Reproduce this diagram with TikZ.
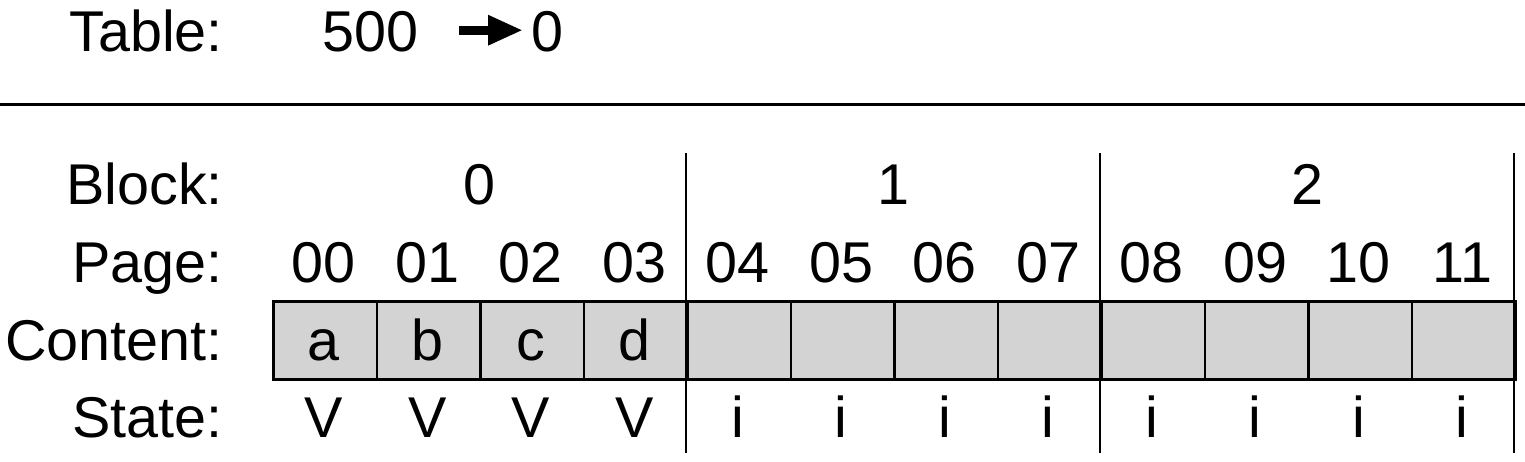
\documentclass[tikz,border=0pt]{standalone}
\usepackage{fontspec}
\setmainfont{Liberation Sans}
\usetikzlibrary{arrows.meta}
\definecolor{cellgray}{HTML}{D3D3D3}
\tikzset{
  lbl/.style={anchor=base east, inner sep=0pt},
  txt/.style={anchor=base, inner sep=0pt},
  cellbox/.style={draw, line width=2.5pt, fill=cellgray, minimum width=103.5pt,
    minimum height=78pt, inner sep=0pt, anchor=north west},
  divider/.style={line width=2.8pt},
  rule/.style={line width=3pt},
  bigarrow/.style={line width=9pt, -{Triangle[length=35pt,width=28pt]}},
}
\begin{document}
\begin{tikzpicture}[x=1pt,y=1pt,font=\fontsize{57.5}{62}\selectfont]
\useasboundingbox (0,0) rectangle (1525,-461);
% table line
\node[lbl] (tbl) at (223,-51) {Table:};
\node[inner sep=0pt, anchor=base west] (v500) at (322,-51) {500};
\node[inner sep=0pt, anchor=base west] (v0) at (531,-51) {0};
\draw[bigarrow, shorten <=41pt, shorten >=8pt] ([yshift=1pt]v500.east) -- ([yshift=1pt]v0.west);
% rule
\coordinate (rl) at (0,-104);
\coordinate (rr) at (1525,-104);
\draw[rule] (rl) -- (rr);
% row labels
\node[lbl] (lblock) at (223,-204) {Block:};
\node[lbl] (lpage) at (223,-282) {Page:};
\node[lbl] (lcont) at (223,-360) {Content:};
\node[lbl] (lstate) at (223,-437) {State:};
% cells
\foreach \i in {0,...,11}
  \node[cellbox] (c\i) at ({272+103.5*\i},-300) {};
% page numbers
\foreach \i/\t in {0/00,1/01,2/02,3/03,4/04,5/05,6/06,7/07,8/08,9/09,10/10,11/11}
  \node[txt] (p\i) at ({272+103.5*\i+51.75},-282) {\t};
% contents
\foreach \i/\t in {0/a,1/b,2/c,3/d}
  \node[txt] (t\i) at ({272+103.5*\i+51.75},-360) {\t};
% states
\foreach \i/\t in {0/V,1/V,2/V,3/V,4/i,5/i,6/i,7/i,8/i,9/i,10/i,11/i}
  \node[txt] (s\i) at ({272+103.5*\i+51.75},-437) {\t};
% block numbers
\foreach \k in {0,1,2}
  \node[txt] (b\k) at ({272+414*\k+207},-204) {\k};
% dividers
\foreach \k/\x in {1/686,2/1100,3/1514}{
  \coordinate (dt\k) at (\x,-153);
  \coordinate (db\k) at (\x,-453);
  \draw[divider] (dt\k) -- (db\k);
}
\end{tikzpicture}
\end{document}
